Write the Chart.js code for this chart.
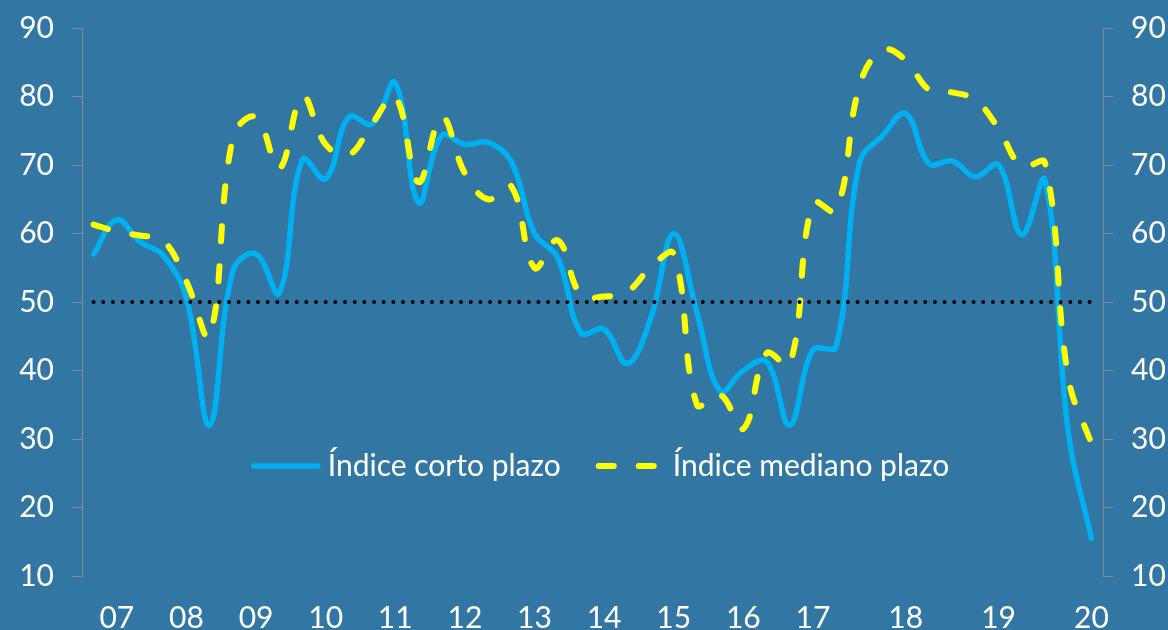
<!DOCTYPE html>
<html>
<head>
<meta charset="utf-8">
<script src="https://cdn.jsdelivr.net/npm/chart.js@4.4.0/dist/chart.umd.min.js"></script>
<style>
  html, body { margin: 0; padding: 0; background: #3277a3; }
  #caja { width: 1168px; height: 630px; }
</style>
</head>
<body>
<div id="caja"><canvas id="grafico" width="1168" height="630"></canvas></div>
<script>
// periodos (solo algunos llevan etiqueta de año)
const periodos = ['', '07', '', '', '08', '', '', '09', '', '', '10', '', '', '11', '', '', '12', '', '', '13', '', '',
                  '14', '', '', '15', '', '', '16', '', '', '17', '', '', '', '18', '', '', '', '19', '', '', '', '20'];

const cortoPlazo = [57, 62, 58.8, 56.8, 50.5, 32, 54.5, 57, 51.3, 70.8, 68, 77, 76, 82, 64.5, 74.3, 73, 73.3, 70.5, 60, 56.5, 45.5,
                    46, 41, 47.5, 60, 48.5, 37, 40, 41.3, 32, 43, 43.5, 70.3, 74.3, 77.5, 70.2, 70.6, 68.3, 70, 59.8, 67.8, 31, 15.5];

const medianoPlazo = [61.3, 60.3, 59.7, 59, 53, 45, 74, 77, 69.5, 80, 73, 71.5, 76, 80, 67.5, 77, 68.8, 65, 66.9, 55, 59, 51,
                      50.8, 51.5, 55, 57, 35, 36.5, 31.5, 42.5, 40.8, 64.5, 63.3, 81.5, 86.8, 85.3, 81, 80.6, 79.5, 75.3, 69.8, 70.3, 39, 29.3];

const umbral = 50;
const ejeMin = 10;
const ejeMax = 90;
const ejePaso = 10;

const FUENTE = 'Lato';
const TAM = 30;
const gris = '#8a8a8a';

Chart.defaults.font.family = FUENTE;
Chart.defaults.font.size = TAM;
Chart.defaults.color = '#ffffff';

// leyenda dibujada dentro del area del grafico
const leyenda = {
    id: 'leyenda',
    afterDraw(chart) {
        const ctx = chart.ctx;
        const items = [0, 1].map(i => chart.data.datasets[i]);
        const muestra = 64, sep = 10, entre = 38;
        ctx.save();
        ctx.font = TAM + 'px ' + FUENTE;
        const anchos = items.map(d => ctx.measureText(d.label).width);
        const total = items.length * (muestra + sep) + anchos[0] + anchos[1] + entre;
        let x = 601.5 - total / 2;
        const y = 466;
        items.forEach((d, i) => {
            ctx.beginPath();
            ctx.lineWidth = d.borderWidth;
            ctx.strokeStyle = d.borderColor;
            ctx.lineCap = 'round';
            ctx.setLineDash(d.borderDash || []);
            ctx.moveTo(x, y);
            ctx.lineTo(x + muestra, y);
            ctx.stroke();
            ctx.setLineDash([]);
            x += muestra + sep;
            ctx.fillStyle = '#ffffff';
            ctx.textBaseline = 'middle';
            ctx.textAlign = 'left';
            ctx.fillText(d.label, x, y);
            x += anchos[i] + entre;
        });
        ctx.restore();
    }
};

// ancho fijo del eje y sin relleno extra arriba/abajo
function ajustarEje(ancho) {
    return function (scale) {
        scale.width = ancho;
        scale.paddingTop = 0;
        scale.paddingBottom = 0;
    };
}

const ctx = document.getElementById('grafico').getContext('2d');

new Chart(ctx, {
    type: 'line',
    data: {
        labels: periodos,
        datasets: [
            {
                label: 'Índice corto plazo',
                data: cortoPlazo,
                borderColor: '#00b0f0',
                borderWidth: 5.5,
                pointRadius: 0,
                tension: 0.4,
                borderCapStyle: 'round',
                order: 2
            },
            {
                label: 'Índice mediano plazo',
                data: medianoPlazo,
                borderColor: '#ffff00',
                borderWidth: 6,
                borderDash: [15, 25],
                borderCapStyle: 'round',
                pointRadius: 0,
                tension: 0.4,
                order: 1
            },
            {
                label: 'umbral',
                data: periodos.map(() => umbral),
                borderColor: '#000000',
                borderWidth: 4,
                borderDash: [0, 9.67],
                borderCapStyle: 'round',
                pointRadius: 0,
                order: 0
            }
        ]
    },
    options: {
        responsive: false,
        animation: false,
        devicePixelRatio: 1,
        layout: { padding: { top: 28, left: 0, right: 0, bottom: 0 } },
        plugins: {
            legend: { display: false },
            tooltip: { enabled: false }
        },
        scales: {
            x: {
                offset: true,
                grid: { display: false },
                border: { display: false },
                ticks: {
                    autoSkip: false,
                    maxRotation: 0,
                    padding: 16,
                    color: '#ffffff'
                },
                afterFit(scale) { scale.height = 54; }
            },
            y: {
                position: 'left',
                min: ejeMin,
                max: ejeMax,
                grid: { drawOnChartArea: false, color: gris, tickLength: 10 },
                border: { display: true, color: gris },
                ticks: { stepSize: ejePaso, padding: 18, color: '#ffffff' },
                afterFit: ajustarEje(82)
            },
            y2: {
                position: 'right',
                min: ejeMin,
                max: ejeMax,
                grid: { drawOnChartArea: false, color: gris, tickLength: 10 },
                border: { display: true, color: gris },
                ticks: { stepSize: ejePaso, padding: 18, color: '#ffffff' },
                afterFit: ajustarEje(65)
            }
        }
    },
    plugins: [leyenda]
});
</script>
</body>
</html>
